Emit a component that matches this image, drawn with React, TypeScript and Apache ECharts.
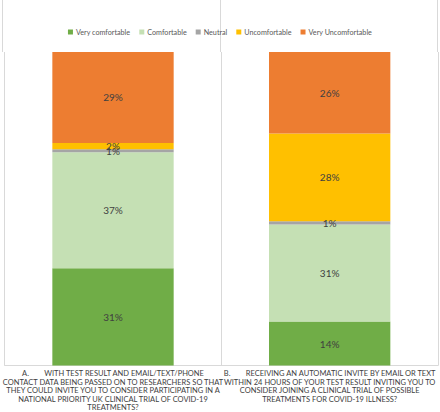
import React, { useEffect, useRef } from "react";
import * as echarts from "echarts";

const categories = [
  "A.        WITH TEST RESULT AND EMAIL/TEXT/PHONE\nCONTACT DATA BEING PASSED ON TO RESEARCHERS SO THAT\nTHEY COULD INVITE YOU TO CONSIDER PARTICIPATING IN A\nNATIONAL PRIORITY UK CLINICAL TRIAL OF COVID-19\nTREATMENTS?",
  "B.        RECEIVING AN AUTOMATIC INVITE BY EMAIL OR TEXT\nWITHIN 24 HOURS OF YOUR TEST RESULT INVITING YOU TO\nCONSIDER JOINING A CLINICAL TRIAL OF POSSIBLE\nTREATMENTS FOR COVID-19 ILLNESS?",
];
const seriesNames = ["Very comfortable", "Comfortable", "Neutral", "Uncomfortable", "Very Uncomfortable"];
const veryComfortable = [31, 14];
const comfortable = [37, 31];
const neutral = [1, 1];
const uncomfortable = [2, 28];
const veryUncomfortable = [29, 26];
const colors = ["#70AD47", "#C5E0B4", "#A5A5A5", "#FFC000", "#ED7D31"];

const FONT = "Lato, 'Open Sans', sans-serif";

export default function App() {
  const ref = useRef<HTMLDivElement>(null);
  useEffect(() => {
    if (!ref.current) return;
    const chart = echarts.init(ref.current, undefined, { renderer: "svg" });
    const values = [veryComfortable, comfortable, neutral, uncomfortable, veryUncomfortable];
    chart.setOption({
      animation: false,
      textStyle: { fontFamily: FONT },
      legend: {
        top: 28.5,
        left: "center",
        padding: 0,
        itemWidth: 5,
        itemHeight: 5,
        itemGap: 9,
        icon: "rect",
        textStyle: { fontSize: 7.2, color: "#595959", fontFamily: FONT, padding: [0, 0, 0, -2] },
        data: seriesNames,
      },
      grid: { left: 2, right: 2, top: 52, bottom: 46, containLabel: false },
      xAxis: {
        type: "category",
        data: categories,
        axisTick: { show: false },
        axisLine: { lineStyle: { color: "#D9D9D9", width: 1 } },
        splitLine: { show: true, interval: 0, lineStyle: { color: "#D9D9D9", width: 1 } },
        axisLabel: {
          interval: 0,
          fontSize: 7.5,
          lineHeight: 8.5,
          color: "#404040",
          fontFamily: FONT,
          margin: 4,
        },
      },
      yAxis: { type: "value", min: 0, max: 100, show: false, splitLine: { show: false } },
      graphic: [
        { type: "line", shape: { x1: 2.5, y1: 0, x2: 2.5, y2: 52 }, style: { stroke: "#D9D9D9", lineWidth: 1 } },
        { type: "line", shape: { x1: 220.5, y1: 0, x2: 220.5, y2: 52 }, style: { stroke: "#D9D9D9", lineWidth: 1 } },
        { type: "line", shape: { x1: 437.5, y1: 0, x2: 437.5, y2: 52 }, style: { stroke: "#D9D9D9", lineWidth: 1 } },
      ],
      series: seriesNames.map((name, i) => ({
        name,
        type: "bar",
        stack: "total",
        barWidth: "56%",
        data: values[i],
        itemStyle: { color: colors[i] },
        label: {
          show: true,
          position: "inside",
          formatter: "{c}%",
          fontSize: 10,
          color: "#404040",
          fontFamily: FONT,
        },
      })),
    });
    return () => chart.dispose();
  }, []);
  return (
    <div
      ref={ref}
      style={{ position: "fixed", left: 0, top: 0, width: 440, height: 412, background: "#fff" }}
    />
  );
}
